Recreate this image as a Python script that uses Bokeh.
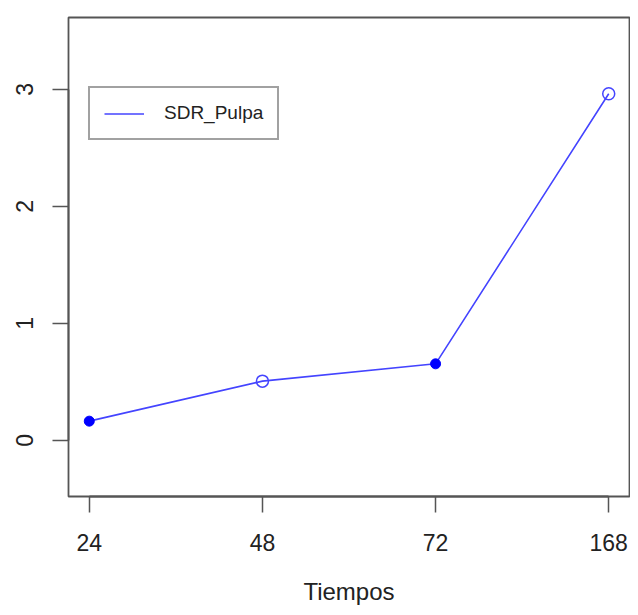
from bokeh.plotting import figure
from bokeh.models import ColumnDataSource, FixedTicker, Legend, LegendItem
from bokeh.embed import file_html
from bokeh.resources import INLINE

tiempos = ["24", "48", "72", "168"]
sdr_pulpa = [0.165, 0.507, 0.655, 2.963]
y_ticks = [0, 1, 2, 3]

xs = list(range(1, len(tiempos) + 1))
src = ColumnDataSource(dict(x=xs, y=sdr_pulpa))
filled_idx = [0, 2]
open_idx = [1, 3]
src_filled = ColumnDataSource(dict(x=[xs[i] for i in filled_idx], y=[sdr_pulpa[i] for i in filled_idx]))
src_open = ColumnDataSource(dict(x=[xs[i] for i in open_idx], y=[sdr_pulpa[i] for i in open_idx]))

FONT = "Liberation Sans"
GRAY = "#555555"

p = figure(width=630, height=607, output_backend="svg", toolbar_location=None,
           x_range=(0.88, 4.12), y_range=(-0.479, 3.615),
           min_border_left=68, min_border_right=1, min_border_top=17, min_border_bottom=111)
p.background_fill_color = "white"
p.border_fill_color = "white"
p.outline_line_color = GRAY
p.outline_line_width = 1.8
p.xgrid.visible = False
p.ygrid.visible = False

line = p.line("x", "y", source=src, line_color="#4444ff", line_width=1.6)
p.scatter("x", "y", source=src_filled, marker="circle", size=10,
          fill_color="#0000ff", line_color="#0000ff")
p.scatter("x", "y", source=src_open, marker="circle", size=12,
          fill_color=None, line_color="#4444ff", line_width=1.5)

xa = p.xaxis[0]
xa.ticker = FixedTicker(ticks=xs)
xa.major_label_overrides = {x: t for x, t in zip(xs, tiempos)}
xa.bounds = (1, len(tiempos))
xa.axis_label = "Tiempos"

ya = p.yaxis[0]
ya.ticker = FixedTicker(ticks=y_ticks)
ya.bounds = (0, 3)
ya.major_label_orientation = "vertical"

for ax in (xa, ya):
    ax.axis_line_color = GRAY
    ax.axis_line_width = 1.8
    ax.major_tick_line_color = GRAY
    ax.major_tick_line_width = 1.5
    ax.major_tick_out = 16
    ax.major_tick_in = 0
    ax.minor_tick_line_color = None
    ax.major_label_text_font = FONT
    ax.major_label_text_font_size = "23px"
    ax.major_label_text_color = "#222222"
    ax.axis_label_text_font = FONT
    ax.axis_label_text_font_size = "24px"
    ax.axis_label_text_font_style = "normal"
    ax.axis_label_text_color = "#222222"

xa.major_label_standoff = 21
xa.axis_label_standoff = 24
ya.major_label_standoff = 19

legend = Legend(items=[LegendItem(label="SDR_Pulpa", renderers=[line])],
                location=(20, 356))
legend.label_text_font = FONT
legend.label_text_font_size = "19px"
legend.label_text_color = "#222222"
legend.border_line_color = "#444444"
legend.border_line_width = 2
legend.padding = 14
legend.margin = 0
legend.glyph_width = 40
legend.glyph_height = 21
legend.label_height = 21
legend.label_standoff = 20
legend.background_fill_color = "white"
legend.background_fill_alpha = 1
p.add_layout(legend)

open("out.html", "w").write(file_html(p, INLINE))
